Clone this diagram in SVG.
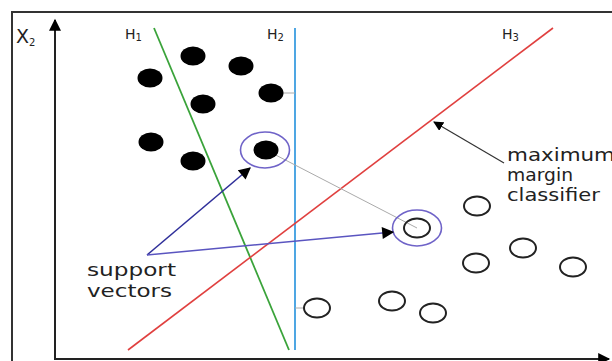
<svg xmlns="http://www.w3.org/2000/svg" width="612" height="361" viewBox="0 0 612 361">
<style>
.lbl{font-family:"DejaVu Sans","Liberation Sans",sans-serif;fill:#222}
.big{font-size:17px}
.h{font-size:14px}
.sub{font-size:10px}
.dot{fill:#000}
.open{fill:none;stroke:#222;stroke-width:2}
.sv{fill:none;stroke:#6f63c8;stroke-width:1.6}
.gray{stroke:#aaa;stroke-width:1;fill:none}
</style>
<defs>
<marker id="ah" viewBox="0 0 10 10" refX="9" refY="5" markerWidth="10" markerHeight="10" markerUnits="userSpaceOnUse" orient="auto">
<path d="M0,0 L10,5 L0,10 z" fill="#000"/>
</marker>
<marker id="ahBig" viewBox="0 0 10 10" refX="9" refY="5" markerWidth="14" markerHeight="12" markerUnits="userSpaceOnUse" orient="auto">
<path d="M0,0 L10,5 L0,10 z" fill="#000"/>
</marker>
</defs>
<rect width="612" height="361" fill="#fff"/>
<g id="frame">
<path d="M12,361 V12 H612" fill="none" stroke="#333" stroke-width="2"/>
</g>
<g id="axes">
<line x1="55" y1="359" x2="55" y2="20" stroke="#222" stroke-width="2" marker-end="url(#ahBig)"/>
<line x1="54" y1="359" x2="609" y2="359" stroke="#222" stroke-width="2" marker-end="url(#ahBig)"/>
<text class="lbl" x="16" y="43" font-size="19">X<tspan class="sub" font-size="12" dy="3">2</tspan></text>
</g>
<g id="hyperplanes">
<line id="H1" x1="154" y1="28" x2="289" y2="350" stroke="#3aa33a" stroke-width="1.8"/>
<line id="H2" x1="295" y1="28" x2="295" y2="350" stroke="#3b9de0" stroke-width="1.8"/>
<line id="H3" x1="553" y1="28" x2="128" y2="350" stroke="#e0403f" stroke-width="1.6"/>
<text class="lbl h" x="125" y="39">H<tspan class="sub" dy="2">1</tspan></text>
<text class="lbl h" x="267" y="39">H<tspan class="sub" dy="2">2</tspan></text>
<text class="lbl h" x="502" y="39">H<tspan class="sub" dy="2">3</tspan></text>
</g>
<g id="margins">
<line class="gray" x1="283" y1="93" x2="295" y2="93"/>
<line class="gray" x1="295" y1="308" x2="305" y2="308"/>
<line class="gray" x1="266" y1="150" x2="417" y2="228"/>
</g>
<g id="class-black">
<ellipse class="dot" cx="193" cy="56" rx="12.5" ry="9.5"/>
<ellipse class="dot" cx="241" cy="66" rx="12.5" ry="9.5"/>
<ellipse class="dot" cx="150" cy="78" rx="12.5" ry="9.5"/>
<ellipse class="dot" cx="271" cy="93" rx="12.5" ry="9.5"/>
<ellipse class="dot" cx="203" cy="104" rx="12.5" ry="9.5"/>
<ellipse class="dot" cx="151" cy="142" rx="12.5" ry="9.5"/>
<ellipse class="dot" cx="193" cy="161" rx="12.5" ry="9.5"/>
</g>
<g id="sv-black">
<ellipse class="dot" cx="266" cy="150" rx="12.5" ry="9.5"/>
<ellipse class="sv" cx="265" cy="150" rx="24.5" ry="18"/>
</g>
<g id="class-white">
<ellipse class="open" cx="477" cy="206" rx="13" ry="9.5"/>
<ellipse class="open" cx="523" cy="248" rx="13" ry="9.5"/>
<ellipse class="open" cx="476" cy="263" rx="13" ry="9.5"/>
<ellipse class="open" cx="573" cy="267" rx="13" ry="9.5"/>
<ellipse class="open" cx="317" cy="308" rx="13" ry="9.5"/>
<ellipse class="open" cx="392" cy="301" rx="13" ry="9.5"/>
<ellipse class="open" cx="433" cy="313" rx="13" ry="9.5"/>
</g>
<g id="sv-white">
<ellipse class="open" cx="417" cy="228" rx="13" ry="9.5"/>
<ellipse class="sv" cx="417" cy="228" rx="24.5" ry="18"/>
</g>
<g id="connectors">
<line x1="147" y1="255" x2="250" y2="168" stroke="#2f2f9a" stroke-width="1.6" marker-end="url(#ahBig)"/>
<line x1="147" y1="255" x2="393" y2="232" stroke="#5a55c0" stroke-width="1.4" marker-end="url(#ahBig)"/>
<line x1="504" y1="163" x2="434" y2="122" stroke="#333" stroke-width="1.2" marker-end="url(#ah)"/>
</g>
<g id="label-support">
<text class="lbl big" x="87" y="276" textLength="89" lengthAdjust="spacingAndGlyphs">support</text>
<text class="lbl big" x="87" y="297" textLength="85" lengthAdjust="spacingAndGlyphs">vectors</text>
</g>
<g id="label-max">
<text class="lbl big" x="507" y="161" textLength="108" lengthAdjust="spacingAndGlyphs">maximum</text>
<text class="lbl big" x="507" y="181" textLength="66" lengthAdjust="spacingAndGlyphs">margin</text>
<text class="lbl big" x="507" y="201" textLength="93" lengthAdjust="spacingAndGlyphs">classifier</text>
</g>
</svg>
